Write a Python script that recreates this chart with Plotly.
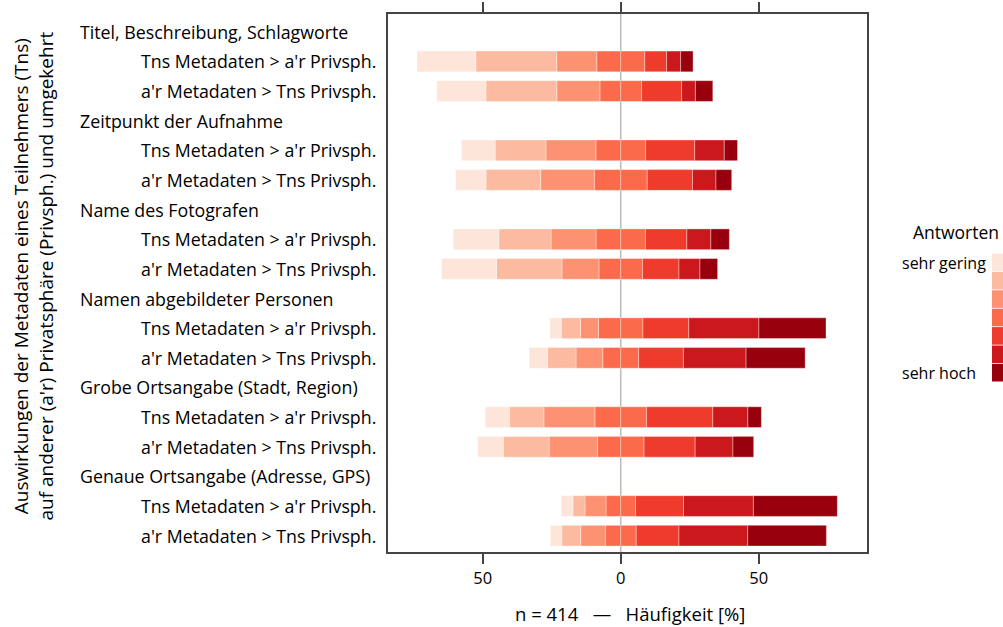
import plotly.graph_objects as go

# Survey topics (metadata types) and the two directions asked for each
topics = [
    "Titel, Beschreibung, Schlagworte",
    "Zeitpunkt der Aufnahme",
    "Name des Fotografen",
    "Namen abgebildeter Personen",
    "Grobe Ortsangabe (Stadt, Region)",
    "Genaue Ortsangabe (Adresse, GPS)",
]
directions = ["Tns Metadaten > a'r Privsph.", "a'r Metadaten > Tns Privsph."]

# Answer shares in percent, one list per answer level (sehr gering -> sehr hoch),
# ordered topic by topic, each topic with its two directions
level_1 = [21.3, 17.8, 12.2, 11.0, 16.5, 19.9, 4.1, 6.7, 8.7, 9.3, 4.2, 4.1]
level_2 = [29.3, 25.7, 18.4, 19.8, 18.9, 23.7, 7.0, 10.3, 12.5, 16.6, 4.4, 6.9]
level_3 = [14.5, 15.6, 18.1, 19.4, 16.3, 13.4, 6.5, 9.7, 18.5, 17.5, 7.6, 8.9]
level_4 = [17.4, 15.1, 18.0, 19.2, 17.9, 15.8, 16.1, 13.0, 18.7, 16.9, 10.7, 11.2]
level_5 = [7.9, 14.5, 17.8, 16.4, 15.0, 13.2, 16.6, 16.2, 24.0, 18.5, 17.4, 15.5]
level_6 = [5.1, 5.0, 10.7, 8.5, 8.7, 7.6, 25.4, 22.7, 12.7, 13.7, 25.3, 24.9]
level_7 = [4.5, 6.3, 4.8, 5.7, 6.7, 6.4, 24.3, 21.4, 4.9, 7.5, 30.4, 28.5]

level_names = ["sehr gering", "", "", "", "", "", "sehr hoch"]
colors = ["#FEE5D9", "#FCBBA1", "#FC9272", "#FB6A4A", "#EF3B2C", "#CB181D", "#99000D"]

n_total = 414
tick_vals = [-50, 0, 50]
tick_text = ["50", "0", "50"]

FONT = "Open Sans"

# Row positions (counting downwards): each topic has a header row
# followed by its two direction rows
rows_y = []
header_y = []
for g in range(len(topics)):
    header_y.append(-3 * g)
    rows_y.extend([-(3 * g + 1), -(3 * g + 2)])

levels = [level_1, level_2, level_3, level_4, level_5, level_6, level_7]

fig = go.Figure()

# Left side: half of the neutral level first (next to zero), then levels 3, 2, 1
left_parts = [([-v / 2 for v in level_4], colors[3])]
for k in (2, 1, 0):
    left_parts.append(([-v for v in levels[k]], colors[k]))
# Right side: other half of the neutral level, then levels 5, 6, 7
right_parts = [([v / 2 for v in level_4], colors[3])]
for k in (4, 5, 6):
    right_parts.append((list(levels[k]), colors[k]))

for vals, col in left_parts + right_parts:
    fig.add_trace(go.Bar(
        x=vals, y=rows_y, orientation="h", width=0.7,
        marker=dict(color=col, line=dict(width=0.6, color="rgba(255,255,255,0.6)")),
        showlegend=False, hoverinfo="x+y",
    ))

# Zero reference line behind the bars
fig.add_shape(type="line", xref="x", yref="paper", x0=0, x1=0, y0=0, y1=1,
              line=dict(color="#BEBEBE", width=1.6), layer="below")

LABEL = dict(family=FONT, size=17.8, color="black")
SMALL = dict(family=FONT, size=16, color="black")

annotations = []
# Topic headers
for t, yv in zip(topics, header_y):
    annotations.append(dict(text=t, xref="paper", yref="y", x=-0.647, y=yv,
                            xanchor="left", yanchor="middle", showarrow=False, font=LABEL))
# Direction labels
for i, yv in enumerate(rows_y):
    annotations.append(dict(text=directions[i % 2], xref="paper", yref="y", x=0, y=yv,
                            xanchor="right", yanchor="middle", xshift=-10, showarrow=False,
                            font=LABEL))
# Y axis title (two lines)
annotations.append(dict(
    text="Auswirkungen der Metadaten eines Teilnehmers (Tns)<br>auf anderer (a'r) Privatsphäre (Privsph.) und umgekehrt",
    xref="paper", yref="paper", x=(34 - 388) / 479, y=0.512, textangle=-90,
    xanchor="center", yanchor="middle", showarrow=False,
    font=dict(family=FONT, size=19, color="black")))
# X axis title
annotations.append(dict(
    text="n = %d   —   Häufigkeit [%%]" % n_total,
    xref="x", yref="paper", x=0, xshift=9, y=-0.114, xanchor="center", yanchor="middle",
    showarrow=False, font=dict(family=FONT, size=18.5, color="black")))

# Legend drawn as a vertical colour strip with end labels
plot_w = 1003 - 388 - 136
plot_h = 627 - 14 - 75
def px_x(px):
    return (px - 388) / plot_w
def px_y(py):
    return (552 - py) / plot_h

box_top = 253.5
box_h = 18.4
for k, col in enumerate(colors):
    y0 = box_top + k * box_h
    fig.add_shape(type="rect", xref="paper", yref="paper",
                  x0=px_x(992), x1=px_x(1004), y0=px_y(y0 + box_h - 0.8), y1=px_y(y0),
                  fillcolor=col, line=dict(width=0))
    if level_names[k]:
        annotations.append(dict(text=level_names[k], xref="paper", yref="paper",
                                x=px_x(900), y=px_y(y0 + box_h / 2), xanchor="left",
                                yanchor="middle", showarrow=False, font=SMALL))
annotations.append(dict(text="Antworten", xref="paper", yref="paper",
                        x=px_x(911), y=px_y(232), xanchor="left", yanchor="middle",
                        showarrow=False, font=dict(family=FONT, size=17.5, color="black")))

fig.update_layout(
    width=1003, height=627,
    margin=dict(l=388, r=136, t=14, b=75, autoexpand=False),
    paper_bgcolor="white", plot_bgcolor="white",
    barmode="relative",
    annotations=annotations,
    font=dict(family=FONT, size=16, color="black"),
    xaxis=dict(range=[-84.3, 89.2], autorange=False, tickvals=tick_vals, ticktext=tick_text,
               ticks="outside", ticklen=10, tickwidth=1.5, tickcolor="#444",
               showline=True, linecolor="#444", linewidth=1.5, mirror="ticks",
               showgrid=False, zeroline=False, tickfont=dict(size=16.5, family=FONT),
               fixedrange=True),
    yaxis=dict(range=[-17.55, 0.6], autorange=False, showticklabels=False, ticks="",
               showline=True, linecolor="#444", linewidth=1.5, mirror=True,
               showgrid=False, zeroline=False, fixedrange=True),
)

fig.write_html("out.html")
